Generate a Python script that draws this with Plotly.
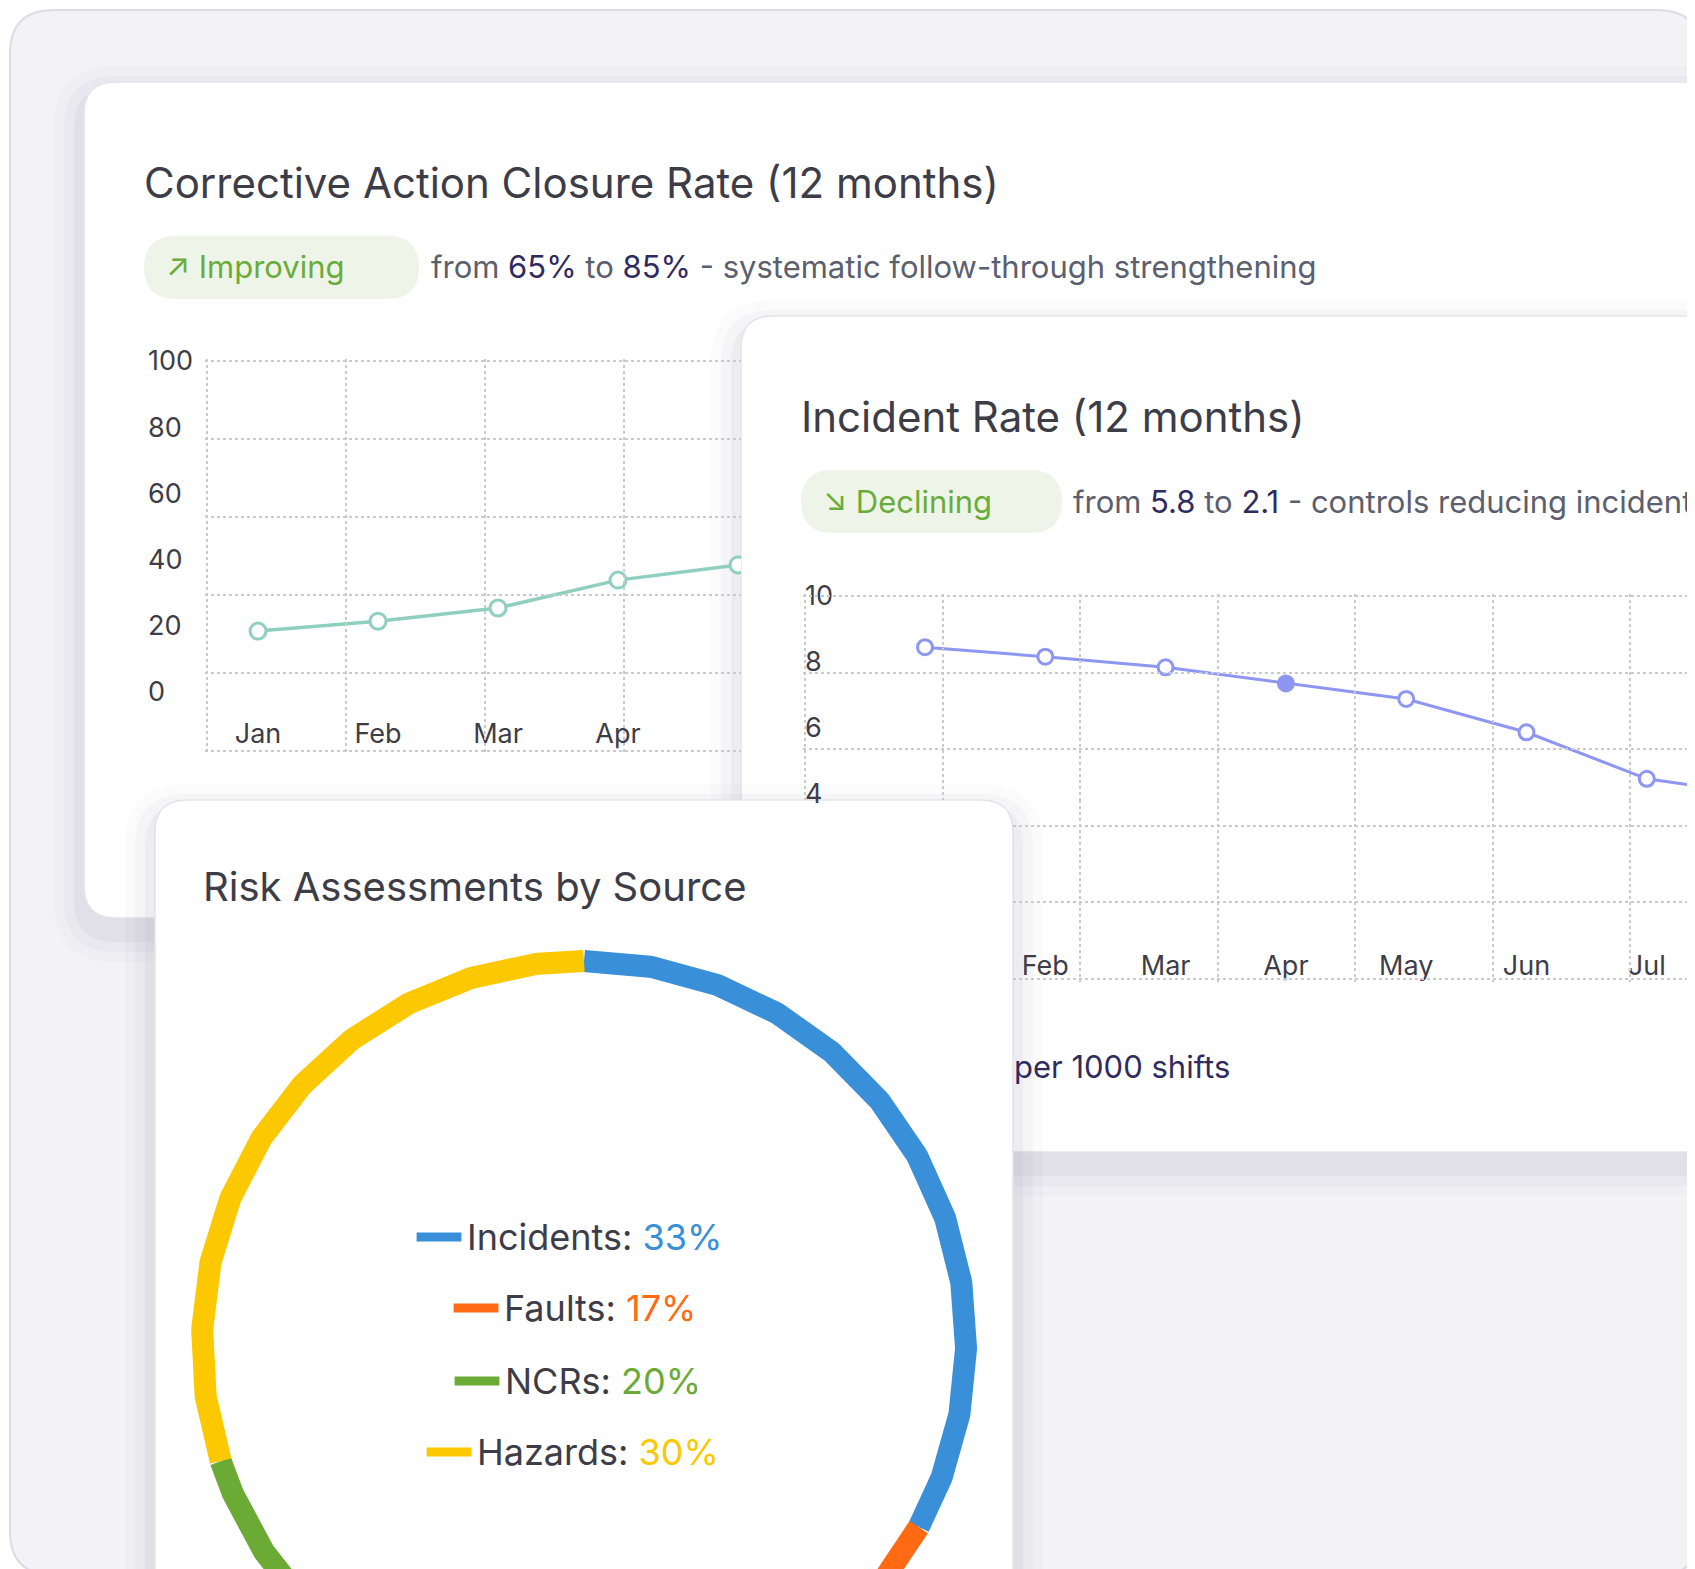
import numpy as np
import plotly.graph_objects as go

W, H = 1695, 1569

# ---- data ----
months = ["Jan", "Feb", "Mar", "Apr", "May", "Jun", "Jul", "Aug", "Sep", "Oct", "Nov", "Dec"]
closure_rate = [18.4, 21.4, 25.4, 33.8, 38.4]
incident_rate = [8.45, 8.16, 7.84, 7.35, 6.88, 5.87, 4.46, 3.94]
closure_ticks = [0, 20, 40, 60, 80, 100]
incident_ticks = [4, 6, 8, 10]
sources = ["Incidents", "Faults", "NCRs", "Hazards"]
shares = [33, 17, 20, 30]
source_colors = ["#3a8fd9", "#ff6a13", "#6aaa35", "#fcc800"]

FONT = "Inter"
TXT = "#3d3d47"
GREY = "#5c5f6e"
NAVY = "#2f2b5e"
GREEN = "#6aac3a"
GRID = "#c9c9d0"


def fx(p):  # pixel x -> paper
    return p / W


def fy(p):  # pixel y (from top) -> paper
    return 1 - p / H


def rng(p0, p1, a, b):
    # axis range for pixel domain [p0, p1] when value v sits at pixel a + b*v
    return [(p0 - a) / b, (p1 - a) / b]


def rrect(x0, y0, x1, y1, r):
    X0, X1 = fx(x0), fx(x1)
    Y0, Y1 = fy(y1), fy(y0)
    rx, ry = r / W, r / H
    return (f"M{X0+rx},{Y0} L{X1-rx},{Y0} Q{X1},{Y0} {X1},{Y0+ry} L{X1},{Y1-ry} Q{X1},{Y1} {X1-rx},{Y1} "
            f"L{X0+rx},{Y1} Q{X0},{Y1} {X0},{Y1-ry} L{X0},{Y0+ry} Q{X0},{Y0} {X0+rx},{Y0} Z")


shapes = []


def add_path(path, fill, line=None):
    shapes.append(dict(type="path", path=path, fillcolor=fill, xref="paper", yref="paper",
                       line=line or dict(width=0), layer="below"))


def card(x0, y0, x1, y1, r=32):
    for k, a in [(30, 0.02), (20, 0.03), (10, 0.04)]:
        add_path(rrect(x0 - k, y0 - k + 14, x1 + k, y1 + k + 14, r + k), f"rgba(60,55,90,{a})")
    add_path(rrect(x0, y0, x1, y1, r), "white", dict(color="#e4e3ea", width=1.5))


# background frame
add_path(rrect(2, 2, W - 2, H - 2, 44), "#f3f2f6", dict(color="#dddce3", width=2))
card(76, 74, W + 60, 910)
add_path(rrect(136, 228, 411, 291, 32), "#eef5e8")
card(733, 308, W + 60, 1144)
add_path(rrect(793, 462, 1054, 525, 32), "#eef5e8")
card(147, 792, 1005, H + 80)

fig = go.Figure()

# invisible traces so the grid-only axes get drawn
for xa, ya in [("x3", "y3"), ("x5", "y5"), ("x6", "y6")]:
    fig.add_trace(go.Scatter(x=[None], y=[None], xaxis=xa, yaxis=ya, hoverinfo="skip"))

# ---- chart 1: corrective action closure rate ----
fig.add_trace(go.Scatter(
    x=list(range(len(closure_rate))), y=closure_rate, mode="lines+markers",
    line=dict(color="#8fcfc0", width=3.5),
    marker=dict(size=16, color="white", line=dict(color="#8fcfc0", width=3)),
    xaxis="x", yaxis="y", hoverinfo="skip"))

# ---- chart 2: incident rate ----
fig.add_trace(go.Scatter(
    x=list(range(len(incident_rate))), y=incident_rate, mode="lines+markers",
    line=dict(color="#8d96f0", width=3),
    marker=dict(size=15, color=["white"] * 3 + ["#8d96f0"] + ["white"] * 4,
                line=dict(color="#8d96f0", width=3)),
    xaxis="x2", yaxis="y2", hoverinfo="skip"))

# ---- donut ring ----
cx, cy, R = 576, H - 1335, 382
start = 0.0
for name, s, c in zip(sources, shares, source_colors):
    th = np.radians(np.linspace(start, start + s, 300) * 3.6)
    fig.add_trace(go.Scatter(x=cx + R * np.sin(th), y=cy + R * np.cos(th), mode="lines",
                             line=dict(color=c, width=22), xaxis="x4", yaxis="y4", hoverinfo="skip"))
    start += s

# legend in the middle of the donut
leg_y = [1229, 1300, 1373, 1444]
dash_x = [431, 468, 469, 441]
fig.add_trace(go.Scatter(x=dash_x, y=[H - v for v in leg_y], mode="markers",
                         marker=dict(symbol="line-ew", size=32, color=source_colors,
                                     line=dict(color=source_colors, width=9)),
                         xaxis="x4", yaxis="y4", hoverinfo="skip"))

ann = []


def label(x, y, text, size, color=TXT, anchor="left"):
    ann.append(dict(x=fx(x), y=fy(y), xref="paper", yref="paper", xanchor=anchor, yanchor="middle",
                    showarrow=False, text=text, font=dict(size=size, color=color, family=FONT)))


for name, s, c, yy, xx in zip(sources, shares, source_colors, leg_y, dash_x):
    label(xx + 26, yy, f"{name}: <span style='color:{c}'>{s}%</span>", 36)

label(134, 174, "Corrective Action Closure Rate (12 months)", 42)
label(156, 259, "↗ Improving", 31, GREEN)
label(421, 259, f"from <span style='color:{NAVY}'>65%</span> to <span style='color:{NAVY}'>85%</span> - systematic follow-through strengthening", 31, GREY)
label(791, 408, "Incident Rate (12 months)", 42)
label(813, 493, "↘ Declining", 31, GREEN)
label(1063, 493, f"from <span style='color:{NAVY}'>5.8</span> to <span style='color:{NAVY}'>2.1</span> - controls reducing incidents", 31, GREY)
label(1004, 1058, "per 1000 shifts", 31, NAVY)
label(193, 878, "Risk Assessments by Source", 40)

tickfont = dict(size=27, color=TXT, family=FONT)
grid = dict(showgrid=True, gridcolor=GRID, griddash="dot", gridwidth=1.5, zeroline=False,
            showticklabels=False, ticks="", fixedrange=True)

# chart 1 axes: x at pixel 250 + 120*i, y at up-pixel 885 + 3.31*v
x1_dom = (199, 733)
y1_dom = (H - 743, H - 335)
# chart 2 axes: x at pixel 917 + 120.3*i, y at up-pixel 651 + 33*v
x2_dom = (733, W)
y2_dom = (H - 975, H - 555)

layout_axes = dict(
    xaxis=dict(domain=[fx(x1_dom[0]), fx(x1_dom[1])], range=rng(*x1_dom, 250, 120), anchor="y",
               tickvals=[0, 1, 2, 3], ticktext=months[:4], ticklabelposition="inside", ticks="",
               tickfont=tickfont, showgrid=False, zeroline=False, showline=False),
    yaxis=dict(domain=[y1_dom[0] / H, y1_dom[1] / H], range=rng(*y1_dom, H - 684, 3.31), anchor="free",
               position=fx(136), ticklabelposition="inside", tickvals=closure_ticks, ticks="",
               tickfont=tickfont, showgrid=False, zeroline=False),
    xaxis2=dict(domain=[fx(x2_dom[0]), 1], range=rng(*x2_dom, 917, 120.3), anchor="y2",
                tickvals=list(range(1, 12)), ticktext=months[1:], ticklabelposition="inside", ticks="",
                tickfont=tickfont, showgrid=False, zeroline=False),
    yaxis2=dict(domain=[y2_dom[0] / H, y2_dom[1] / H], range=rng(*y2_dom, 651, 33), anchor="free",
                position=fx(793), ticklabelposition="inside", tickvals=incident_ticks, ticks="",
                tickfont=tickfont, showgrid=False, zeroline=False),
    # grid for chart 1
    xaxis3=dict(domain=[fx(197), fx(733)], range=rng(197, 733, 199, 139), dtick=1, tick0=0, anchor="y3", **grid),
    yaxis3=dict(domain=[(H - 745) / H, (H - 351) / H], range=rng(H - 745, H - 351, H - 743, 78), dtick=1,
                tick0=0, anchor="x3", **grid),
    # grid for chart 2, upper part
    xaxis5=dict(domain=[fx(795), 1], range=rng(795, W, 797, 137.5), dtick=1, tick0=0, anchor="y5", **grid),
    yaxis5=dict(domain=[(H - 792) / H, (H - 586) / H], range=rng(H - 792, H - 586, H - 971, 76.6), dtick=1,
                tick0=0, anchor="x5", **grid),
    # grid for chart 2, right of the donut card
    xaxis6=dict(domain=[fx(1005), 1], range=rng(1005, W, 797, 137.5), dtick=1, tick0=0, anchor="y6", **grid),
    yaxis6=dict(domain=[(H - 974) / H, (H - 792) / H], range=rng(H - 974, H - 792, H - 971, 76.6), dtick=1,
                tick0=0, anchor="x6", **grid),
    # pixel space for the donut
    xaxis4=dict(domain=[0, 1], range=[0, W], visible=False, fixedrange=True),
    yaxis4=dict(domain=[0, 1], range=[0, H], visible=False, fixedrange=True),
)

fig.update_layout(
    width=W, height=H, margin=dict(l=0, r=0, t=0, b=0),
    paper_bgcolor="white", plot_bgcolor="rgba(0,0,0,0)",
    showlegend=False, shapes=shapes, annotations=ann, font=dict(family=FONT),
    **layout_axes)

fig.write_html("out.html", config={"displayModeBar": False})
